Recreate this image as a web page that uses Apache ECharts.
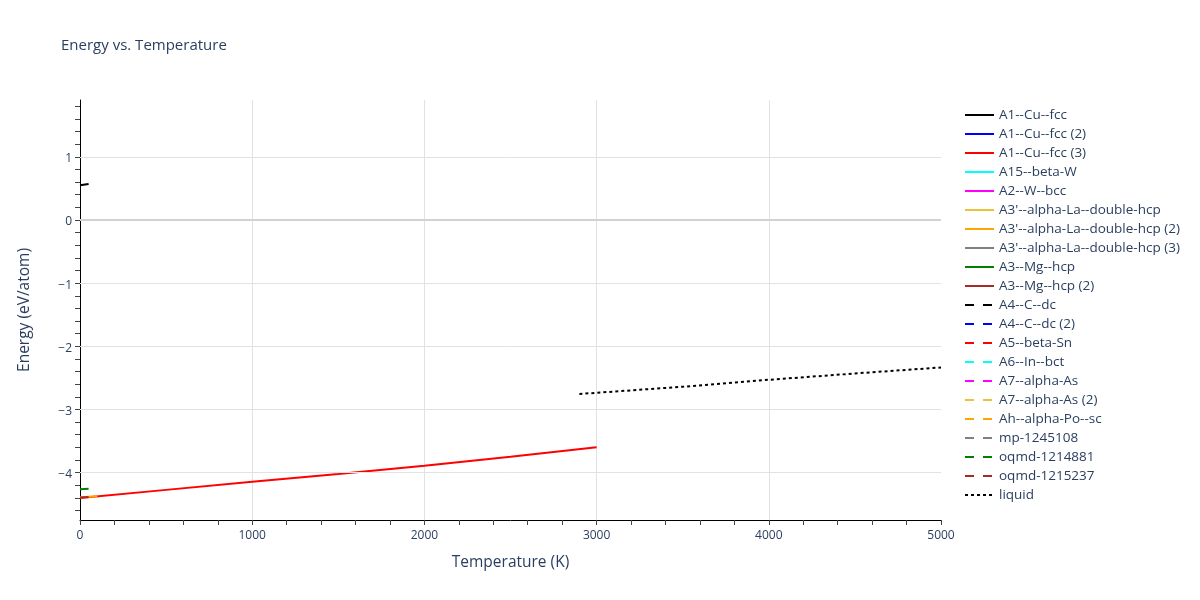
<!DOCTYPE html>
<html><head><meta charset="utf-8">
<script src="https://cdn.jsdelivr.net/npm/echarts@6/dist/echarts.min.js"></script>
<style>html,body{margin:0;padding:0;background:#fff}#c{width:1200px;height:600px}</style>
</head><body><div id="c"></div>
<script>
// ---- data ----
const seriesNames = ["A1--Cu--fcc","A1--Cu--fcc (2)","A1--Cu--fcc (3)","A15--beta-W","A2--W--bcc",
  "A3'--alpha-La--double-hcp","A3'--alpha-La--double-hcp (2)","A3'--alpha-La--double-hcp (3)",
  "A3--Mg--hcp","A3--Mg--hcp (2)","A4--C--dc","A4--C--dc (2)","A5--beta-Sn","A6--In--bct",
  "A7--alpha-As","A7--alpha-As (2)","Ah--alpha-Po--sc","mp-1245108","oqmd-1214881","oqmd-1215237","liquid"];
const seriesColors = ["#000000","#0000ff","#ff0000","#00ffff","#ff00ff","#ebc33a","#ffa500","#808080",
  "#008000","#a52a2a","#000000","#0000ff","#ff0000","#00ffff","#ff00ff","#ebc33a","#ffa500","#808080",
  "#008000","#a52a2a","#000000"];
const seriesDash = ["solid","solid","solid","solid","solid","solid","solid","solid","solid","solid",
  "dash","dash","dash","dash","dash","dash","dash","dash","dash","dash","dot"];

// temperatures (K) and energies (eV/atom) per visible series
const cuFccT = [0, 50];
const cuFccE = [0.55, 0.57];
const cuFcc3T = [0, 500, 1000, 1500, 2000, 2500, 3000];
const cuFcc3E = [-4.40, -4.273, -4.146, -4.02, -3.892, -3.75, -3.60];
const alphaLa2T = [0, 100];
const alphaLa2E = [-4.39, -4.375];
const oqmd1214881T = [0, 50];
const oqmd1214881E = [-4.262, -4.257];
const oqmd1215237T = [0, 50];
const oqmd1215237E = [-4.392, -4.385];
const liquidT = [2900, 3500, 4000, 4500, 5000];
const liquidE = [-2.755, -2.64, -2.53, -2.43, -2.335];

const xTicks = [0, 1000, 2000, 3000, 4000, 5000];
const yTicks = [-4, -3, -2, -1, 0, 1];

const seriesData = {
  "A1--Cu--fcc": [cuFccT, cuFccE],
  "A1--Cu--fcc (3)": [cuFcc3T, cuFcc3E],
  "A3'--alpha-La--double-hcp (2)": [alphaLa2T, alphaLa2E],
  "oqmd-1214881": [oqmd1214881T, oqmd1214881E],
  "oqmd-1215237": [oqmd1215237T, oqmd1215237E],
  "liquid": [liquidT, liquidE]
};

// ---- chart ----
const FONT = "'Open Sans', Verdana, Arial, sans-serif";
const TXT = '#2a3f5f';
const fmt = v => String(v).replace('-', '\u2212');

const yMin = -4.75, yMax = 1.9;
const yMinor = [];
for (let k = -23; k <= 9; k++) yMinor.push(Math.round(k * 2) / 10);

function dashOf(d) {
  if (d === 'dash') return [9, 9];
  if (d === 'dot') return [3, 3];
  return 'solid';
}

const series = [{
  name: '__grid', type: 'line', data: [], silent: true, z: 1,
  markLine: {
    silent: true, symbol: 'none', label: {show: false}, animation: false,
    data: yTicks.map(v => ({yAxis: v, lineStyle: v === 0 ? {color: '#d2d2d2', width: 2, type: 'solid'} : {color: '#e2e2e2', width: 1, type: 'solid'}}))
  }
}];
seriesNames.forEach((n, i) => {
  const d = seriesData[n];
  const pts = d ? d[0].map((t, j) => [t, d[1][j]]) : [];
  series.push({
    name: n, type: 'line', data: pts, showSymbol: false, symbol: 'none', z: 2 + i,
    lineStyle: {color: seriesColors[i], width: 2, type: dashOf(seriesDash[i])},
    itemStyle: {color: seriesColors[i]},
    animation: false
  });
});

const chart = echarts.init(document.getElementById('c'), null, {renderer: 'canvas'});
chart.setOption({
  backgroundColor: '#fff',
  animation: false,
  title: {text: 'Energy vs. Temperature', left: 56, top: 33,
    textStyle: {fontFamily: FONT, fontSize: 15, fontWeight: 'normal', color: TXT}},
  grid: {left: 80, right: 259, top: 100, bottom: 80, containLabel: false},
  legend: {
    orient: 'vertical', left: 959, top: 103, itemWidth: 29, itemHeight: 12, itemGap: 5,
    data: seriesNames,
    itemStyle: {opacity: 0},
    textStyle: {fontFamily: FONT, fontSize: 13.5, color: TXT, padding: [0, 0, 0, 0]},
    selectedMode: false
  },
  xAxis: {
    type: 'value', min: 0, max: 5000, interval: 1000,
    name: 'Temperature (K)', nameLocation: 'middle', nameGap: 35,
    nameTextStyle: {fontFamily: FONT, fontSize: 15.5, color: TXT},
    axisLine: {show: true, onZero: false, lineStyle: {color: '#000', width: 1}},
    axisTick: {show: true, length: 5, inside: false, lineStyle: {color: '#444'}},
    minorTick: {show: true, splitNumber: 5, length: 5, lineStyle: {color: '#444'}},
    axisLabel: {fontFamily: FONT, fontSize: 12, color: TXT, margin: 10, formatter: fmt},
    splitLine: {show: true, showMinLine: false, showMaxLine: false, lineStyle: {color: '#e2e2e2', width: 1}}
  },
  yAxis: {
    type: 'value', min: yMin, max: yMax,
    name: 'Energy (eV/atom)', nameLocation: 'middle', nameGap: 47, nameRotate: 90,
    nameTextStyle: {fontFamily: FONT, fontSize: 15.5, color: TXT},
    axisLine: {show: true, onZero: false, lineStyle: {color: '#000', width: 1}},
    axisTick: {show: true, length: 5, inside: false, customValues: yMinor, lineStyle: {color: '#444'}},
    axisLabel: {fontFamily: FONT, fontSize: 12, color: TXT, margin: 8, customValues: yTicks,
      formatter: v => '{a|' + fmt(v) + '}',
      rich: {a: {fontFamily: FONT, fontSize: 12, color: TXT, padding: [4, 0, 0, 0]}}},
    splitLine: {show: false}
  },
  series: series
});
</script>
</body></html>
